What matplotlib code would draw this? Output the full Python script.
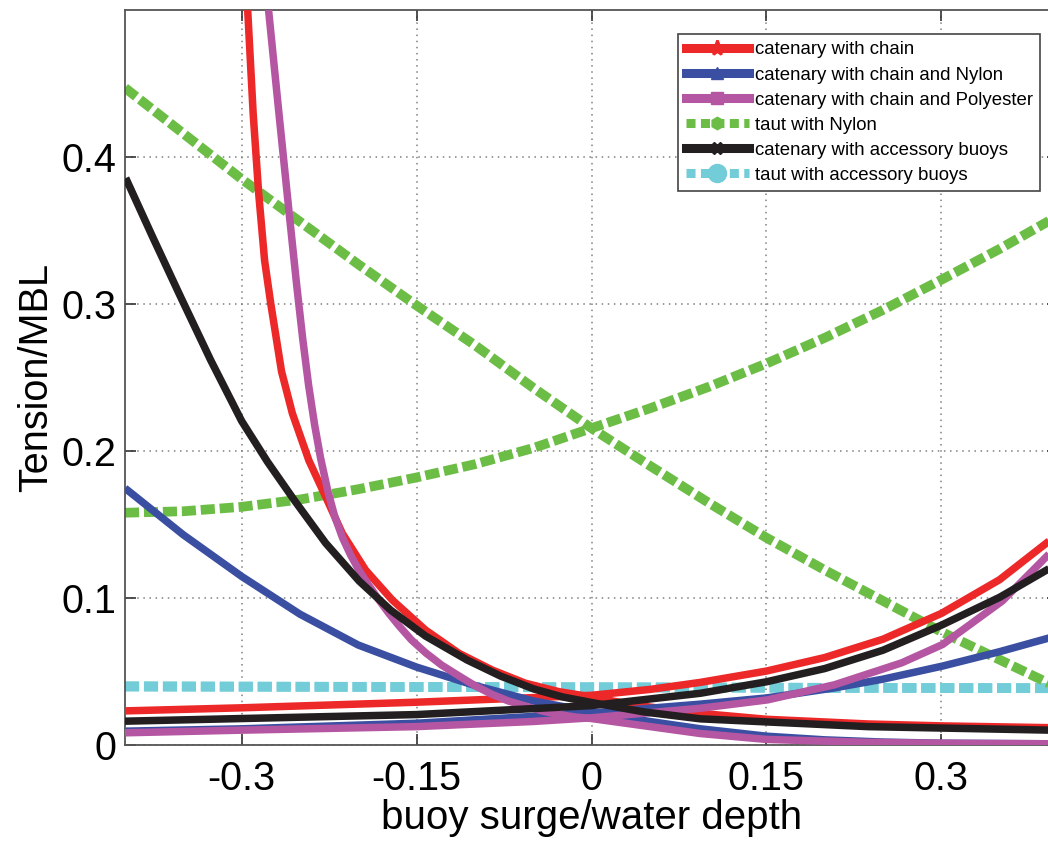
import matplotlib
matplotlib.use("Agg")
import matplotlib.pyplot as plt
from matplotlib.lines import Line2D

plt.rcParams['font.family'] = ['Liberation Sans', 'DejaVu Sans']

# ---------------- data ----------------
# catenary with chain
red_a_x = [-0.2948, -0.2901, -0.2854, -0.2803, -0.2751, -0.2658, -0.2565, -0.2423, -0.2280, -0.2137,
           -0.1937, -0.1708, -0.1423, -0.1137, -0.0851, -0.0566, -0.0280, 0.0, 0.0363, 0.0934,
           0.15, 0.2373, 0.30, 0.40]
red_a_y = [0.500, 0.4295, 0.3755, 0.3296, 0.3007, 0.2542, 0.2256, 0.1935, 0.1690, 0.1440,
           0.1190, 0.0986, 0.0782, 0.0624, 0.0510, 0.0420, 0.0363, 0.0327, 0.0272, 0.0215,
           0.0175, 0.0143, 0.0130, 0.0117]
red_b_x = [-0.40, -0.30, -0.15, 0.0, 0.05, 0.0934, 0.15, 0.20, 0.25, 0.30, 0.35, 0.40]
red_b_y = [0.0232, 0.0253, 0.0291, 0.0338, 0.0378, 0.0426, 0.0503, 0.0595, 0.0720, 0.0895, 0.1125, 0.1435]

# catenary with chain and Nylon
blue_a_x = [-0.40, -0.35, -0.30, -0.25, -0.20, -0.15, -0.10, -0.05, 0.0, 0.05, 0.0934, 0.15, 0.20, 0.25, 0.30, 0.40]
blue_a_y = [0.1747, 0.143, 0.1147, 0.089, 0.068, 0.053, 0.0405, 0.0300, 0.0225, 0.0160, 0.0110, 0.0060, 0.0035, 0.0020, 0.0012, 0.0008]
blue_b_x = [-0.40, -0.30, -0.15, 0.0, 0.0934, 0.15, 0.208, 0.25, 0.301, 0.35, 0.40]
blue_b_y = [0.0094, 0.0110, 0.0148, 0.0218, 0.0278, 0.0320, 0.0388, 0.0448, 0.0537, 0.0635, 0.0745]

# catenary with chain and Polyester
purple_a_x = [-0.2769, -0.2683, -0.2597, -0.2528, -0.2477, -0.2426, -0.2374, -0.2323, -0.2263, -0.2203,
              -0.2134, -0.2066, -0.1995, -0.1911, -0.1822, -0.1740, -0.1650, -0.1543, -0.1420, -0.1286,
              -0.1135, -0.0994, -0.0849, -0.0711, -0.0563, -0.0420, -0.0277, -0.0137, 0.0,
              0.0934, 0.15, 0.237, 0.30, 0.40]
purple_a_y = [0.5000, 0.4320, 0.3653, 0.3129, 0.2769, 0.2449, 0.2177, 0.1952, 0.1735, 0.1558,
              0.1408, 0.1293, 0.1190, 0.1088, 0.0986, 0.0898, 0.0810, 0.0714, 0.0626, 0.0544,
              0.0469, 0.0401, 0.0343, 0.0299, 0.0264, 0.0231, 0.0207, 0.0190, 0.0180,
              0.0078, 0.0038, 0.0018, 0.0012, 0.0008]
purple_b_x = [-0.40, -0.30, -0.15, -0.05, 0.0, 0.0934, 0.151, 0.2085, 0.266, 0.3011, 0.3523, 0.3937, 0.40]
purple_b_y = [0.0083, 0.0101, 0.0125, 0.0160, 0.0185, 0.0250, 0.0307, 0.0410, 0.0559, 0.0684, 0.0980, 0.1310, 0.1370]

# taut with Nylon
green_a_x = [-0.40, -0.35, -0.30, -0.25, -0.20, -0.15, -0.10, -0.05, 0.0, 0.05, 0.10, 0.15, 0.20, 0.25, 0.30, 0.35, 0.40]
green_a_y = [0.447, 0.416, 0.385, 0.356, 0.327, 0.299, 0.272, 0.243, 0.2155, 0.190, 0.165, 0.141, 0.119, 0.098, 0.077, 0.058, 0.039]
green_b_x = [-0.40, -0.35, -0.30, -0.25, -0.20, -0.15, -0.10, -0.05, 0.0, 0.05, 0.10, 0.15, 0.20, 0.25, 0.30, 0.35, 0.40]
green_b_y = [0.158, 0.159, 0.162, 0.167, 0.174, 0.182, 0.191, 0.202, 0.2155, 0.229, 0.2435, 0.2595, 0.277, 0.296, 0.3165, 0.3375, 0.360]

# catenary with accessory buoys
black_a_x = [-0.3994, -0.3763, -0.3523, -0.3266, -0.3000, -0.2777, -0.2550, -0.2280, -0.1993, -0.1723,
             -0.1423, -0.1066, -0.0780, -0.0494, -0.0249, 0.0, 0.045, 0.0934, 0.237, 0.40]
black_a_y = [0.3857, 0.3456, 0.3048, 0.2619, 0.2204, 0.1925, 0.1667, 0.1374, 0.1116, 0.0918,
             0.0741, 0.0578, 0.0469, 0.0381, 0.0327, 0.0289, 0.0225, 0.0178, 0.0125, 0.0100]
black_b_x = [-0.40, -0.30, -0.15, 0.0, 0.0934, 0.15, 0.20, 0.25, 0.30, 0.35, 0.40]
black_b_y = [0.0162, 0.0180, 0.0207, 0.0268, 0.0352, 0.0430, 0.0520, 0.0645, 0.0815, 0.1005, 0.1235]

# taut with accessory buoys
cyan_a_x = [-0.40, -0.20, 0.0, 0.20, 0.40]
cyan_a_y = [0.0400, 0.0396, 0.0393, 0.0389, 0.0386]
cyan_b_x = [-0.40, -0.20, 0.0, 0.20, 0.40]
cyan_b_y = [0.0397, 0.0395, 0.0392, 0.0389, 0.0387]

labels = ["catenary with chain", "catenary with chain and Nylon", "catenary with chain and Polyester",
          "taut with Nylon", "catenary with accessory buoys", "taut with accessory buoys"]
x_ticks = [-0.3, -0.15, 0, 0.15, 0.3]
x_ticklabels = ["-0.3", "-0.15", "0", "0.15", "0.3"]
y_ticks = [0, 0.1, 0.2, 0.3, 0.4]
y_ticklabels = ["0", "0.1", "0.2", "0.3", "0.4"]

# ---------------- styles ----------------
RED = "#ed2828"
BLUE = "#3a4fa2"
PURPLE = "#b556a3"
GREEN = "#6cbd45"
BLACK = "#231f20"
CYAN = "#72cdd8"

fig = plt.figure(figsize=(10.48, 8.41), dpi=100)
ax = fig.add_axes([125 / 1048, 96 / 841, 933 / 1048, 735 / 841])

solid_lw = 5.4
dash_lw = 7.0
dash = (0, (1.45, 0.5))

ax.plot(cyan_a_x, cyan_a_y, color=CYAN, lw=dash_lw, ls=dash, dash_capstyle='butt', zorder=2)
ax.plot(cyan_b_x, cyan_b_y, color=CYAN, lw=dash_lw, ls=dash, dash_capstyle='butt', zorder=2)
ax.plot(green_a_x, green_a_y, color=GREEN, lw=dash_lw, ls=dash, dash_capstyle='butt', zorder=2)
ax.plot(green_b_x, green_b_y, color=GREEN, lw=dash_lw, ls=dash, dash_capstyle='butt', zorder=2)
for xs, ys, c in [(red_a_x, red_a_y, RED), (red_b_x, red_b_y, RED),
                  (blue_a_x, blue_a_y, BLUE), (blue_b_x, blue_b_y, BLUE),
                  (purple_a_x, purple_a_y, PURPLE), (purple_b_x, purple_b_y, PURPLE),
                  (black_a_x, black_a_y, BLACK), (black_b_x, black_b_y, BLACK)]:
    ax.plot(xs, ys, color=c, lw=solid_lw, solid_joinstyle='round', solid_capstyle='butt', zorder=3)

ax.set_xlim(-0.4, 0.4)
ax.set_ylim(0, 0.5)
ax.set_xticks(x_ticks)
ax.set_xticklabels(x_ticklabels)
ax.set_yticks(y_ticks)
ax.set_yticklabels(y_ticklabels)
ax.tick_params(direction='in', length=8, width=1.2, colors='#333333', top=True, right=True,
               labelsize=28.5, labelcolor='black')
ax.tick_params(axis='x', pad=11)
ax.tick_params(axis='y', pad=6)
ax.grid(True, linestyle=(0, (1, 3)), color='#808080', linewidth=1.1)
for s in ax.spines.values():
    s.set_color('#555555')
    s.set_linewidth(1.3)

ax.set_xlabel("buoy surge/water depth", fontsize=29, labelpad=0.5)
ax.set_ylabel("Tension/MBL", fontsize=28.5, labelpad=4.5)

handles = [
    Line2D([], [], color=RED, lw=6.5, marker='*', ms=11, mew=2),
    Line2D([], [], color=BLUE, lw=6.5, marker='^', ms=9),
    Line2D([], [], color=PURPLE, lw=6.5, marker='s', ms=8),
    Line2D([], [], color=GREEN, lw=6.5, ls=(0, (1.0, 0.6)), dash_capstyle='butt', marker='h', ms=9),
    Line2D([], [], color=BLACK, lw=6.5, marker='X', ms=9),
    Line2D([], [], color=CYAN, lw=6.5, ls=(0, (1.0, 0.6)), dash_capstyle='butt', marker='o', ms=13),
]
leg = fig.legend(handles, labels, loc='upper right', bbox_to_anchor=(1040 / 1048, 1 - 34 / 841),
                 fontsize=13.4, frameon=True, fancybox=False, shadow=False, framealpha=1,
                 edgecolor='#444444', handlelength=3.4, handletextpad=0.3, borderpad=0.4,
                 labelspacing=0.43, borderaxespad=0)
leg.get_frame().set_linewidth(1.2)

fig.savefig("out.png", dpi=100)
